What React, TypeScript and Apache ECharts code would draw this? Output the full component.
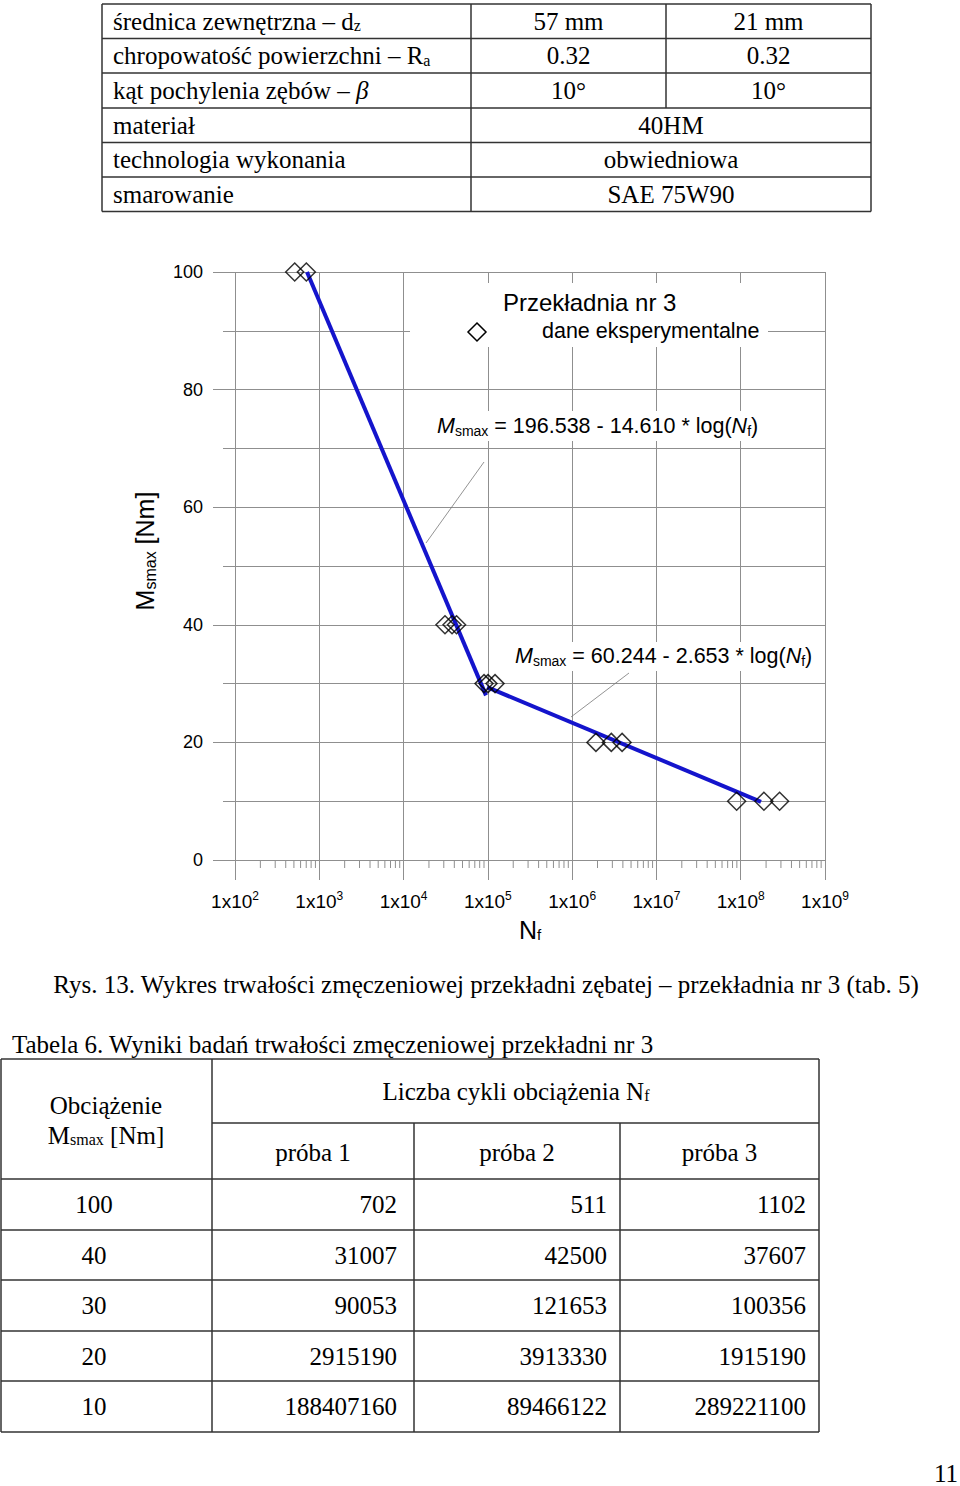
import React, { useEffect, useRef } from 'react';
import * as echarts from 'echarts';

// ---- Data ----
const loads = [100, 40, 30, 20, 10];
const trial1 = [702, 31007, 90053, 2915190, 188407160];
const trial2 = [511, 42500, 121653, 3913330, 89466122];
const trial3 = [1102, 37607, 100356, 1915190, 289221100];
// experimental points visible in the figure [N_f, M_smax]
const plottedPoints: [number, number][] = [
  [511, 100], [702, 100],
  [31007, 40], [42500, 40], [37607, 40],
  [90053, 30], [121653, 30], [100356, 30],
  [2915190, 20], [3913330, 20], [1915190, 20],
  [188407160, 10], [89466122, 10], [289221100, 10],
];
// fitted lines
const fitHigh: [number, number][] = [[715, 100], [95000, 28]];
const fitLow: [number, number][] = [[98000, 29.4], [174000000, 9.9]];
const decadeExps = [2, 3, 4, 5, 6, 7, 8, 9];

const paramLabels = [
  '{t|średnica zewnętrzna – d}{s|z}',
  '{t|chropowatość powierzchni – R}{s|a}',
  '{t|kąt pochylenia zębów – }{i|β}',
  '{t|materiał}',
  '{t|technologia wykonania}',
  '{t|smarowanie}',
];
const paramValues: string[][] = [
  ['57 mm', '21 mm'],
  ['0.32', '0.32'],
  ['10°', '10°'],
  ['40HM'],
  ['obwiedniowa'],
  ['SAE 75W90'],
];
const trialHeaders = ['próba 1', 'próba 2', 'próba 3'];

const SERIF = 'Liberation Serif';
const SANS = 'Liberation Sans';
const GRID_C = '#8f8f8f';
const FS = 25;

function buildGraphics() {
  const els: any[] = [];
  const line = (x1: number, y1: number, x2: number, y2: number, w = 1.5, c = '#333', z = 10) =>
    els.push({ type: 'line', z, shape: { x1, y1, x2, y2 }, style: { stroke: c, lineWidth: w } });
  const text = (x: number, y: number, t: string, align: string, rich: any, extra: any = {}) =>
    els.push({
      type: 'text', z: 10, x, y, ...extra,
      style: { text: t, x: 0, y: 0, align, verticalAlign: 'middle', rich, fill: '#000' },
    });

  const serifRich = (fs: number) => ({
    t: { fontFamily: SERIF, fontSize: fs, fill: '#000' },
    i: { fontFamily: SERIF, fontSize: fs, fontStyle: 'italic', fill: '#000' },
    s: { fontFamily: SERIF, fontSize: Math.round(fs * 0.65), padding: [9, 0, 0, 0], fill: '#000' },
  });

  // ---- top table ----
  const tRows = [4, 38.5, 73, 108, 142.5, 177, 211.5];
  const tL = 102, tR = 871, tC1 = 471, tC2 = 666;
  tRows.forEach((y) => line(tL, y, tR, y));
  line(tL, tRows[0], tL, tRows[6]);
  line(tR, tRows[0], tR, tRows[6]);
  line(tC1, tRows[0], tC1, tRows[6]);
  line(tC2, tRows[0], tC2, tRows[3]);
  paramLabels.forEach((lab, r) => {
    const cy = (tRows[r] + tRows[r + 1]) / 2;
    text(113, cy, lab, 'left', serifRich(FS));
    const vals = paramValues[r];
    if (vals.length === 2) {
      text((tC1 + tC2) / 2, cy, '{t|' + vals[0] + '}', 'center', serifRich(FS));
      text((tC2 + tR) / 2, cy, '{t|' + vals[1] + '}', 'center', serifRich(FS));
    } else {
      text((tC1 + tR) / 2, cy, '{t|' + vals[0] + '}', 'center', serifRich(FS));
    }
  });

  // ---- chart annotations ----
  els.push({ type: 'rect', z: 1, shape: { x: 410, y: 283, width: 358, height: 64 }, style: { fill: '#fff' } });
  els.push({ type: 'rect', z: 1, shape: { x: 432, y: 411, width: 334, height: 30 }, style: { fill: '#fff' } });
  els.push({ type: 'rect', z: 1, shape: { x: 511, y: 642, width: 310, height: 29 }, style: { fill: '#fff' } });
  const sansRich = {
    t: { fontFamily: SANS, fontSize: 21.5, fill: '#000' },
    i: { fontFamily: SANS, fontSize: 21.5, fontStyle: 'italic', fill: '#000' },
    s: { fontFamily: SANS, fontSize: 14, padding: [9, 0, 0, 0], fill: '#000' },
    big: { fontFamily: SANS, fontSize: 24, fill: '#000' },
  };
  text(503, 302, '{big|Przekładnia nr 3}', 'left', sansRich);
  text(542, 331, '{t|dane eksperymentalne}', 'left', sansRich);
  els.push({
    type: 'polygon', z: 10,
    shape: { points: [[477, 323], [486, 332], [477, 341], [468, 332]] },
    style: { fill: 'none', stroke: '#000', lineWidth: 1.5 },
  });
  text(437, 426, '{i|M}{s|smax}{t| = 196.538 - 14.610 * log(}{i|N}{s|f}{t|)}', 'left', sansRich);
  text(515, 656, '{i|M}{s|smax}{t| = 60.244 - 2.653 * log(}{i|N}{s|f}{t|)}', 'left', sansRich);
  line(484, 462, 426, 543, 0.8, '#777', 3);
  line(629, 673, 571, 717, 0.8, '#777', 3);

  // y axis name
  els.push({
    type: 'text', z: 10, x: 145, y: 551, rotation: Math.PI / 2,
    style: {
      text: '{n|M}{s|smax}{n| [Nm]}', x: 0, y: 0, align: 'center', verticalAlign: 'middle',
      rich: {
        n: { fontFamily: SANS, fontSize: 25, fill: '#000' },
        s: { fontFamily: SANS, fontSize: 16, padding: [10, 0, 0, 0], fill: '#000' },
      },
    },
  });

  // ---- caption ----
  text(486, 984, '{t|Rys. 13. Wykres trwałości zmęczeniowej przekładni zębatej – przekładnia nr 3 (tab. 5)}', 'center', serifRich(FS));
  text(12, 1044, '{t|Tabela 6. Wyniki badań trwałości zmęczeniowej przekładni nr 3}', 'left', serifRich(FS));

  // ---- bottom table ----
  const bL = 1, c1 = 212, c2 = 414, c3 = 620, bR = 819;
  const bTop = 1059, bMid = 1123;
  const bRows = [1179, 1230, 1280, 1331, 1381, 1432];
  line(bL, bTop, bR, bTop);
  line(c1, bMid, bR, bMid);
  bRows.forEach((y) => line(bL, y, bR, y));
  line(bL, bTop, bL, bRows[5]);
  line(c1, bTop, c1, bRows[5]);
  line(c2, bMid, c2, bRows[5]);
  line(c3, bMid, c3, bRows[5]);
  line(bR, bTop, bR, bRows[5]);
  text(106, 1105, '{t|Obciążenie}', 'center', serifRich(FS));
  text(106, 1135, '{t|M}{s|smax}{t| [Nm]}', 'center', serifRich(FS));
  text(516, 1091, '{t|Liczba cykli obciążenia N}{s|f}', 'center', serifRich(FS));
  const cc = [(c1 + c2) / 2, (c2 + c3) / 2, (c3 + bR) / 2];
  trialHeaders.forEach((h, k) => text(cc[k], 1152, '{t|' + h + '}', 'center', serifRich(FS)));
  const rights = [397, 607, 806];
  loads.forEach((m, r) => {
    const cy = (bRows[r] + bRows[r + 1]) / 2;
    text(94, cy, '{t|' + m + '}', 'center', serifRich(FS));
    [trial1, trial2, trial3].forEach((arr, k) => text(rights[k], cy, '{t|' + arr[r] + '}', 'right', serifRich(FS)));
  });
  text(958, 1473, '{t|11}', 'right', serifRich(FS));
  return els;
}

export default function App() {
  const ref = useRef<HTMLDivElement>(null);
  useEffect(() => {
    if (!ref.current) return;
    const chart = echarts.init(ref.current, null, { renderer: 'svg' });
    const minorTicks: number[] = [];
    decadeExps.slice(0, -1).forEach((e) => {
      for (let k = 2; k <= 9; k++) minorTicks.push(k * Math.pow(10, e));
    });
    const lineStyle = { color: GRID_C, width: 1 };
    chart.setOption({
      animation: false,
      backgroundColor: '#fff',
      grid: { left: 235, right: 135, top: 272, bottom: 626, containLabel: false },
      xAxis: {
        type: 'log', logBase: 10, min: 100, max: 1e9, splitNumber: 7,
        axisLine: { show: true, lineStyle },
        axisTick: { show: true, length: 20, lineStyle },
        splitLine: { show: true, lineStyle },
        axisLabel: {
          margin: 30,
          formatter: (v: number) => '{a|1x10}{b|' + Math.round(Math.log10(v)) + '}',
          rich: {
            a: { fontFamily: SANS, fontSize: 19, color: '#000' },
            b: { fontFamily: SANS, fontSize: 12, color: '#000', padding: [0, 0, 10, 0] },
          },
        },
        name: '{n|N}{s|f}', nameLocation: 'middle', nameGap: 57,
        nameTextStyle: {
          rich: {
            n: { fontFamily: SANS, fontSize: 25, color: '#000' },
            s: { fontFamily: SANS, fontSize: 15, color: '#000', padding: [10, 0, 0, 0] },
          },
        },
      },
      yAxis: {
        type: 'value', min: 0, max: 100, interval: 20,
        axisLine: { show: false },
        axisTick: { show: true, length: 22, lineStyle },
        minorTick: { show: true, splitNumber: 2, length: 12, lineStyle },
        splitLine: { show: true, lineStyle },
        minorSplitLine: { show: true, lineStyle },
        axisLabel: { margin: 32, fontFamily: SANS, fontSize: 18, color: '#000' },
      },
      series: [
        {
          type: 'custom', coordinateSystem: 'cartesian2d', clip: false, silent: true, z: 1,
          data: minorTicks.map((v) => [v, 0]),
          renderItem: (_p: any, api: any) => {
            const p = api.coord([api.value(0), 0]);
            return { type: 'line', shape: { x1: p[0], y1: p[1], x2: p[0], y2: p[1] + 8 }, style: { stroke: GRID_C, lineWidth: 1 } };
          },
        },
        { type: 'line', data: fitHigh, showSymbol: false, symbol: 'none', z: 3, lineStyle: { color: '#1414cc', width: 4 } },
        { type: 'line', data: fitLow, showSymbol: false, symbol: 'none', z: 3, lineStyle: { color: '#1414cc', width: 4 } },
        {
          type: 'scatter', data: plottedPoints, symbol: 'diamond', symbolSize: 18, z: 5,
          itemStyle: { color: 'rgba(0,0,0,0)', borderColor: '#000', borderWidth: 1.5 },
        },
      ],
      graphic: { elements: buildGraphics() },
    });
    return () => chart.dispose();
  }, []);
  return <div ref={ref} style={{ position: 'absolute', left: 0, top: 0, width: 960, height: 1486 }} />;
}
